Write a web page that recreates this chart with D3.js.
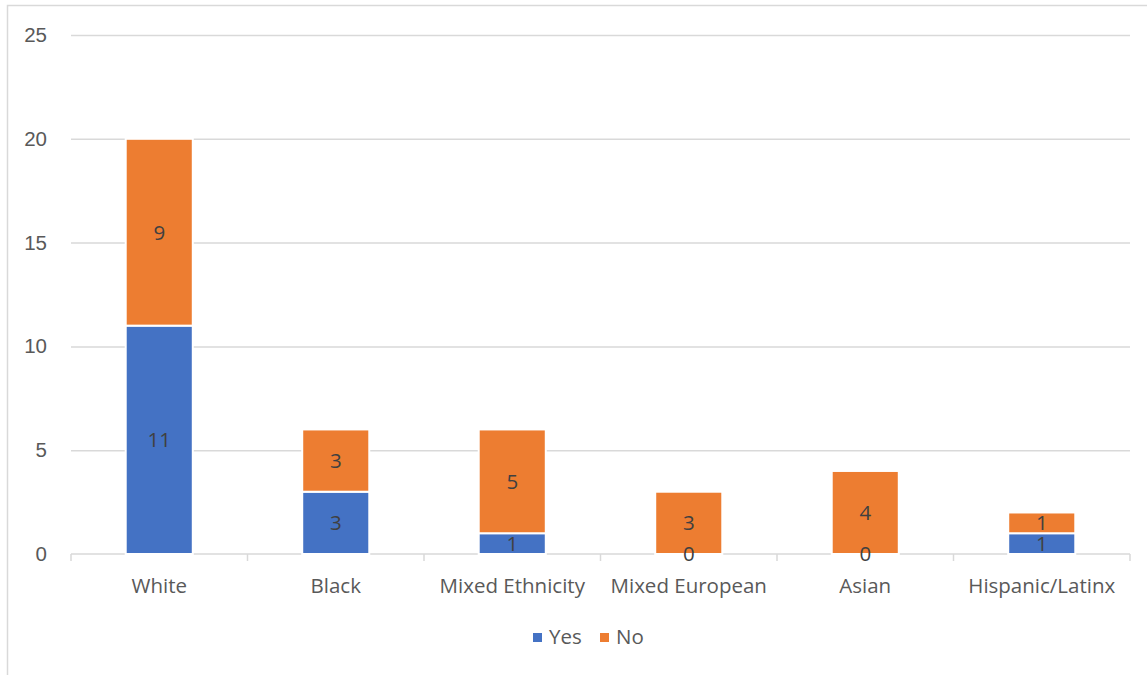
<!DOCTYPE html>
<html>
<head>
<meta charset="utf-8">
<script src="https://cdn.jsdelivr.net/npm/d3@7"></script>
<style>
  html, body { margin: 0; padding: 0; background: #fff; }
  svg { display: block; font-family: "Open Sans", "Noto Sans", sans-serif; }
</style>
</head>
<body>
<div id="chart"></div>
<script>
// Data
const categories = ['White', 'Black', 'Mixed Ethnicity', 'Mixed European', 'Asian', 'Hispanic/Latinx'];
const yesValues = [11, 3, 1, 0, 0, 1];
const noValues = [9, 3, 5, 3, 4, 1];
const seriesNames = ['Yes', 'No'];
const yTicks = [0, 5, 10, 15, 20, 25];

(function main(){
  const width = 1147, height = 675;
  const margin = { top: 35, right: 17, bottom: 121, left: 71 };
  const innerW = width - margin.left - margin.right;
  const innerH = height - margin.top - margin.bottom;
  const colors = { Yes: '#4472c4', No: '#ed7d31' };
  const fontSize = '20.5px';

  const svg = d3.select('#chart').append('svg')
    .attr('width', width).attr('height', height);

  // outer chart border (only top and left visible in the crop)
  svg.append('path')
    .attr('d', `M7.5,${height} V5.5 H${width}`)
    .attr('fill', 'none').attr('stroke', '#d9d9d9').attr('stroke-width', 1.5);

  const plot = svg.append('g').attr('transform', `translate(${margin.left},${margin.top})`);

  const x = d3.scaleBand().domain(categories).range([0, innerW]).paddingInner(0.62).paddingOuter(0.31);
  const y = d3.scaleLinear().domain([0, 25]).range([innerH, 0]);

  // gridlines
  plot.append('g')
    .call(d3.axisLeft(y).tickValues(yTicks.filter(t => t > 0)).tickSize(-innerW).tickFormat(''))
    .call(g => g.select('.domain').remove())
    .selectAll('line').attr('stroke', '#d9d9d9').attr('stroke-width', 1.5);

  // y labels
  plot.append('g')
    .call(d3.axisLeft(y).tickValues(yTicks).tickSize(0).tickPadding(24))
    .call(g => g.select('.domain').remove())
    .selectAll('text')
    .attr('fill', '#595959').style('font-size', fontSize);

  // x axis with category boundary ticks
  const xAxis = plot.append('g').attr('transform', `translate(0,${innerH})`);
  xAxis.append('line').attr('x1', 0).attr('x2', innerW).attr('stroke', '#d9d9d9').attr('stroke-width', 1.5);
  const step = innerW / categories.length;
  xAxis.selectAll('.bound').data(d3.range(categories.length + 1)).enter()
    .append('line')
    .attr('x1', i => i * step).attr('x2', i => i * step)
    .attr('y1', 0).attr('y2', 7)
    .attr('stroke', '#d9d9d9').attr('stroke-width', 1.5);
  xAxis.selectAll('.cat').data(categories).enter()
    .append('text')
    .attr('x', d => x(d) + x.bandwidth() / 2)
    .attr('y', 39)
    .attr('text-anchor', 'middle')
    .attr('fill', '#595959')
    .style('font-size', fontSize)
    .text(d => d);

  // stacked data
  const rows = categories.map((c, i) => ({ cat: c, Yes: yesValues[i], No: noValues[i] }));
  const stacked = d3.stack().keys(seriesNames)(rows);

  const layers = plot.selectAll('.layer').data(stacked).enter()
    .append('g').attr('class', 'layer')
    .attr('fill', d => colors[d.key]);

  layers.selectAll('rect').data(d => d.filter(p => p[1] - p[0] > 0)).enter()
    .append('rect')
    .attr('x', d => x(d.data.cat))
    .attr('y', d => y(d[1]))
    .attr('width', x.bandwidth())
    .attr('height', d => y(d[0]) - y(d[1]))
    .attr('stroke', '#fff')
    .attr('stroke-width', 2);

  // data labels (including zero values), drawn above all bars
  const labels = plot.append('g');
  labels.selectAll('text').data(stacked.flat()).enter()
    .append('text')
    .attr('x', d => x(d.data.cat) + x.bandwidth() / 2)
    .attr('y', d => (y(d[0]) + y(d[1])) / 2)
    .attr('dy', '0.36em')
    .attr('text-anchor', 'middle')
    .attr('fill', '#404040')
    .style('font-size', fontSize)
    .text(d => d[1] - d[0]);

  // legend
  const legend = svg.append('g').attr('transform', `translate(533, 637)`);
  const items = legend.selectAll('g').data(seriesNames).enter()
    .append('g').attr('transform', (d, i) => `translate(${i * 67},0)`);
  items.append('rect').attr('x', 0).attr('y', -4).attr('width', 9).attr('height', 9)
    .attr('fill', d => colors[d]);
  items.append('text').attr('x', 16).attr('y', 0).attr('dy', '0.36em')
    .attr('fill', '#595959').style('font-size', fontSize).text(d => d);
})();
</script>
</body>
</html>
